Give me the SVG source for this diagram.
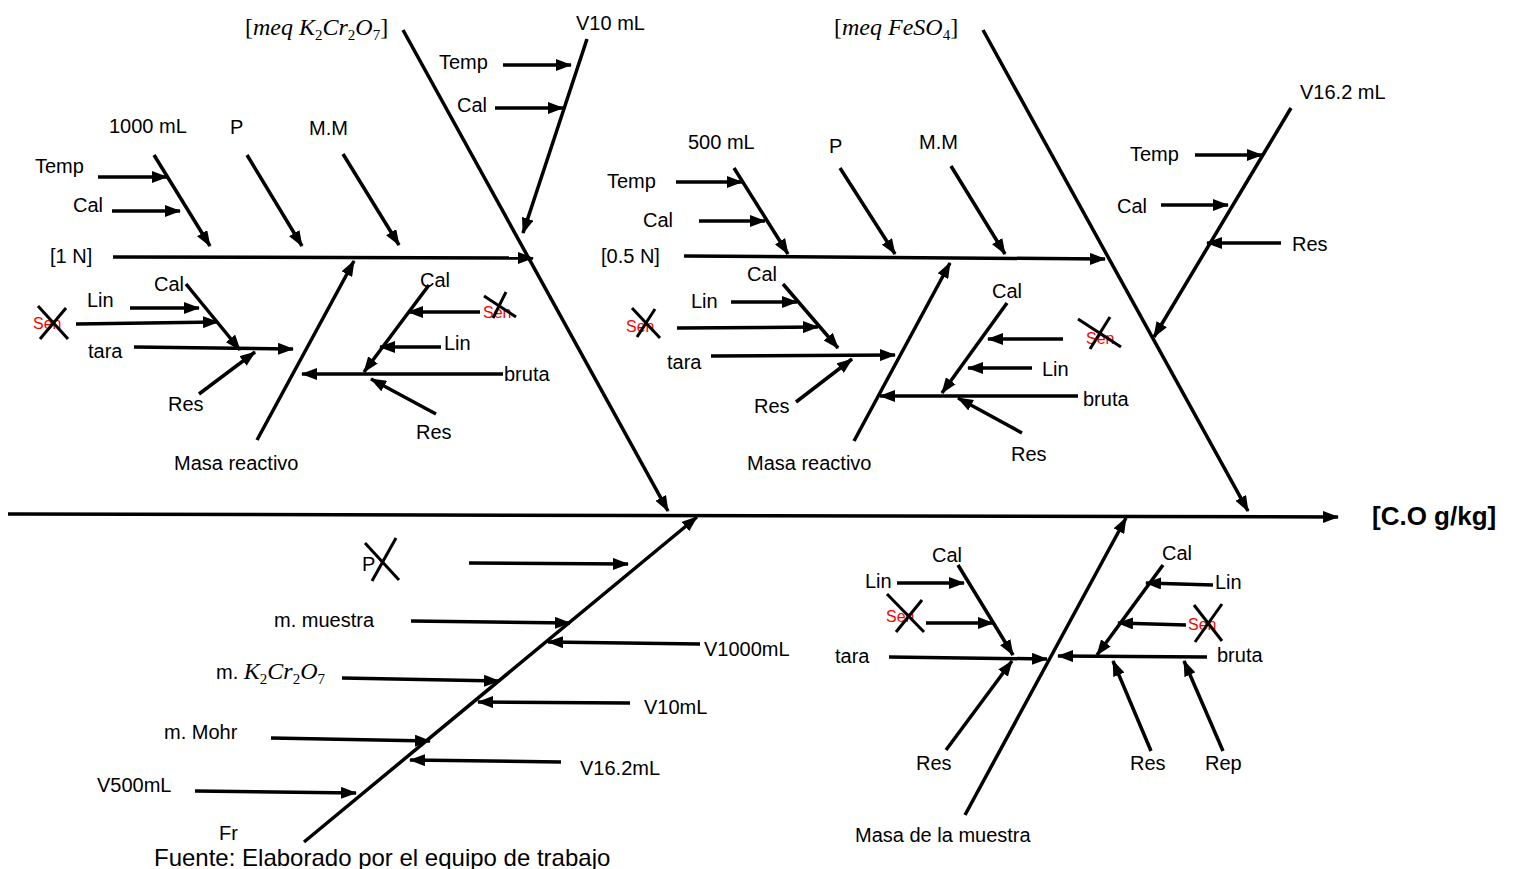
<svg xmlns="http://www.w3.org/2000/svg" width="1515" height="869" viewBox="0 0 1515 869">
<style>
text{font-family:"Liberation Sans",Arial,sans-serif;font-size:20px;fill:#000}
.b{font-weight:bold;font-size:26px}
.r{fill:#ff0000;font-size:16px}
.m{font-family:"Liberation Serif","Times New Roman",serif;font-size:24px}
.i{font-style:italic}
.s{font-size:15px}
.f{font-size:24px}
.c line{stroke:#000;stroke-width:3.5;marker-end:url(#ah)}
.x line{stroke:#000;stroke-width:3}
</style>
<defs>
<marker id="ah" viewBox="0 0 16 12" markerWidth="16" markerHeight="12" refX="15" refY="6" orient="auto" markerUnits="userSpaceOnUse"><path d="M0,0 L16,6 L0,12 z" fill="#000"/></marker>
</defs>
<rect width="1515" height="869" fill="#fff"/>

<g id="connectors" class="c">
<line x1="8" y1="514" x2="1338" y2="517"/>
<line x1="403" y1="30" x2="668" y2="511"/>
<line x1="113" y1="257" x2="533" y2="258"/>
<line x1="154" y1="155" x2="210" y2="246"/>
<line x1="98" y1="177" x2="167" y2="177"/>
<line x1="112" y1="211" x2="180" y2="211"/>
<line x1="247" y1="155" x2="302" y2="246"/>
<line x1="343" y1="154" x2="399" y2="245"/>
<line x1="587" y1="39" x2="523" y2="233"/>
<line x1="503" y1="65" x2="571" y2="65"/>
<line x1="495" y1="108" x2="563" y2="108"/>
<line x1="257" y1="440" x2="354" y2="261"/>
<line x1="186" y1="284" x2="240" y2="350"/>
<line x1="130" y1="308" x2="199" y2="308"/>
<line x1="76" y1="324" x2="218" y2="322"/>
<line x1="134" y1="347" x2="293" y2="349"/>
<line x1="199" y1="394" x2="255" y2="352"/>
<line x1="429" y1="285" x2="364" y2="372"/>
<line x1="480" y1="312" x2="408" y2="312"/>
<line x1="441" y1="347" x2="380" y2="347"/>
<line x1="503" y1="374" x2="302" y2="374"/>
<line x1="436" y1="414" x2="371" y2="379"/>
<line x1="983" y1="30" x2="1248" y2="511"/>
<line x1="684" y1="256" x2="1105" y2="259"/>
<line x1="734" y1="168" x2="788" y2="254"/>
<line x1="676" y1="182" x2="742" y2="182"/>
<line x1="699" y1="221" x2="765" y2="221"/>
<line x1="840" y1="168" x2="895" y2="254"/>
<line x1="951" y1="166" x2="1005" y2="254"/>
<line x1="1291" y1="108" x2="1154" y2="337"/>
<line x1="1195" y1="155" x2="1262" y2="155"/>
<line x1="1161" y1="205" x2="1228" y2="205"/>
<line x1="1281" y1="243" x2="1207" y2="243"/>
<line x1="854" y1="441" x2="950" y2="263"/>
<line x1="783" y1="284" x2="838" y2="348"/>
<line x1="731" y1="302" x2="797" y2="302"/>
<line x1="677" y1="328" x2="818" y2="327"/>
<line x1="711" y1="356" x2="895" y2="355"/>
<line x1="796" y1="402" x2="852" y2="359"/>
<line x1="1007" y1="303" x2="942" y2="393"/>
<line x1="1063" y1="339" x2="988" y2="339"/>
<line x1="1032" y1="368" x2="968" y2="368"/>
<line x1="1078" y1="396" x2="880" y2="396"/>
<line x1="1022" y1="433" x2="958" y2="398"/>
<line x1="304" y1="842" x2="697" y2="517"/>
<line x1="469" y1="563" x2="628" y2="564"/>
<line x1="411" y1="621" x2="570" y2="623"/>
<line x1="700" y1="644" x2="548" y2="642"/>
<line x1="342" y1="678" x2="499" y2="681"/>
<line x1="630" y1="703" x2="478" y2="702"/>
<line x1="271" y1="738" x2="430" y2="741"/>
<line x1="561" y1="762" x2="410" y2="760"/>
<line x1="195" y1="791" x2="356" y2="793"/>
<line x1="965" y1="815" x2="1126" y2="518"/>
<line x1="958" y1="565" x2="1013" y2="655"/>
<line x1="897" y1="583" x2="964" y2="583"/>
<line x1="926" y1="623" x2="993" y2="623"/>
<line x1="889" y1="657" x2="1047" y2="659"/>
<line x1="946" y1="750" x2="1012" y2="661"/>
<line x1="1163" y1="565" x2="1097" y2="655"/>
<line x1="1213" y1="585" x2="1146" y2="583"/>
<line x1="1186" y1="625" x2="1118" y2="623"/>
<line x1="1207" y1="657" x2="1058" y2="656"/>
<line x1="1151" y1="751" x2="1113" y2="661"/>
<line x1="1223" y1="751" x2="1184" y2="661"/>
</g>

<g id="effect"><text class="b" x="1372" y="525">[C.O g/kg]</text></g>

<g id="meq-k2cr2o7"><text class="m" x="245" y="35">[<tspan class="i">meq K</tspan><tspan class="s" dy="5">2</tspan><tspan class="i" dy="-5">Cr</tspan><tspan class="s" dy="5">2</tspan><tspan class="i" dy="-5">O</tspan><tspan class="s" dy="5">7</tspan><tspan dy="-5">]</tspan></text></g>
<g id="n-1n"><text x="50" y="263">[1 N]</text></g>
<g id="n-1000ml"><text x="109" y="133">1000 mL</text></g>
<g id="n-temp1"><text x="35" y="173">Temp</text></g>
<g id="n-cal1"><text x="73" y="212">Cal</text></g>
<g id="n-p1"><text x="230" y="134">P</text></g>
<g id="n-mm1"><text x="309" y="135">M.M</text></g>
<g id="n-v10ml"><text x="576" y="30">V10 mL</text></g>
<g id="n-temp2"><text x="439" y="69">Temp</text></g>
<g id="n-cal2"><text x="457" y="112">Cal</text></g>

<g id="n-masa-reactivo-1"><text x="174" y="470">Masa reactivo</text></g>
<g id="n-cal3"><text x="154" y="291">Cal</text></g>
<g id="n-lin1"><text x="87" y="307">Lin</text></g>
<g id="n-sen1" class="x"><text class="r" x="33" y="329">Sen</text><line x1="38" y1="306" x2="68" y2="339"/><line x1="66" y1="308" x2="40" y2="339"/></g>
<g id="n-tara1"><text x="88" y="358">tara</text></g>
<g id="n-res1"><text x="168" y="411">Res</text></g>
<g id="n-cal4"><text x="420" y="287">Cal</text></g>
<g id="n-sen2" class="x"><text class="r" x="483" y="318">Sen</text><line x1="484" y1="296" x2="516" y2="317"/><line x1="506" y1="292" x2="493" y2="318"/></g>
<g id="n-lin2"><text x="444" y="350">Lin</text></g>
<g id="n-bruta1"><text x="504" y="381">bruta</text></g>
<g id="n-res2"><text x="416" y="439">Res</text></g>

<g id="meq-feso4"><text class="m" x="834" y="35">[<tspan class="i">meq FeSO</tspan><tspan class="s" dy="5">4</tspan><tspan dy="-5">]</tspan></text></g>
<g id="n-05n"><text x="601" y="263">[0.5 N]</text></g>
<g id="n-500ml"><text x="688" y="149">500 mL</text></g>
<g id="n-temp3"><text x="607" y="188">Temp</text></g>
<g id="n-cal5"><text x="643" y="227">Cal</text></g>
<g id="n-p2"><text x="829" y="153">P</text></g>
<g id="n-mm2"><text x="919" y="149">M.M</text></g>
<g id="n-v162ml"><text x="1300" y="99">V16.2 mL</text></g>
<g id="n-temp4"><text x="1130" y="161">Temp</text></g>
<g id="n-cal6"><text x="1117" y="213">Cal</text></g>
<g id="n-res3"><text x="1292" y="251">Res</text></g>

<g id="n-masa-reactivo-2"><text x="747" y="470">Masa reactivo</text></g>
<g id="n-cal7"><text x="747" y="281">Cal</text></g>
<g id="n-lin3"><text x="691" y="308">Lin</text></g>
<g id="n-sen3" class="x"><text class="r" x="626" y="332">Sen</text><line x1="632" y1="308" x2="660" y2="338"/><line x1="655" y1="309" x2="637" y2="337"/></g>
<g id="n-tara2"><text x="667" y="369">tara</text></g>
<g id="n-res4"><text x="754" y="413">Res</text></g>
<g id="n-cal8"><text x="992" y="298">Cal</text></g>
<g id="n-sen4" class="x"><text class="r" x="1086" y="344">Sen</text><line x1="1078" y1="319" x2="1121" y2="347"/><line x1="1110" y1="317" x2="1090" y2="349"/></g>
<g id="n-lin4"><text x="1042" y="376">Lin</text></g>
<g id="n-bruta2"><text x="1083" y="406">bruta</text></g>
<g id="n-res5"><text x="1011" y="461">Res</text></g>

<g id="n-p3" class="x"><text x="362" y="571">P</text><line x1="365" y1="543" x2="399" y2="580"/><line x1="396" y1="538" x2="372" y2="581"/></g>
<g id="n-m-muestra"><text x="274" y="627">m. muestra</text></g>
<g id="n-v1000ml"><text x="704" y="656">V1000mL</text></g>
<g id="n-m-k2cr2o7"><text x="216" y="679">m. <tspan class="m i" font-size="23">K</tspan><tspan class="m s" dy="5">2</tspan><tspan class="m i" font-size="23" dy="-5">Cr</tspan><tspan class="m s" dy="5">2</tspan><tspan class="m i" font-size="23" dy="-5">O</tspan><tspan class="m s" dy="5">7</tspan></text></g>
<g id="n-v10ml-b"><text x="644" y="714">V10mL</text></g>
<g id="n-m-mohr"><text x="164" y="739">m. Mohr</text></g>
<g id="n-v162ml-b"><text x="580" y="775">V16.2mL</text></g>
<g id="n-v500ml"><text x="97" y="792">V500mL</text></g>
<g id="n-fr"><text x="219" y="840" font-size="18">Fr</text></g>
<g id="caption"><text class="f" x="154" y="866">Fuente: Elaborado por el equipo de trabajo</text></g>

<g id="n-masa-muestra"><text x="855" y="842">Masa de la muestra</text></g>
<g id="n-cal9"><text x="932" y="562">Cal</text></g>
<g id="n-lin5"><text x="865" y="588">Lin</text></g>
<g id="n-sen5" class="x"><text class="r" x="886" y="622" font-size="20">Sen</text><line x1="887" y1="594" x2="924" y2="632"/><line x1="922" y1="600" x2="896" y2="632"/></g>
<g id="n-tara3"><text x="835" y="663">tara</text></g>
<g id="n-res6"><text x="916" y="770">Res</text></g>
<g id="n-cal10"><text x="1162" y="560">Cal</text></g>
<g id="n-lin6"><text x="1215" y="589">Lin</text></g>
<g id="n-sen6" class="x"><text class="r" x="1188" y="630" font-size="20">Sen</text><line x1="1194" y1="605" x2="1222" y2="641"/><line x1="1222" y1="604" x2="1195" y2="642"/></g>
<g id="n-bruta3"><text x="1217" y="662">bruta</text></g>
<g id="n-res7"><text x="1130" y="770">Res</text></g>
<g id="n-rep"><text x="1205" y="770">Rep</text></g>
</svg>
